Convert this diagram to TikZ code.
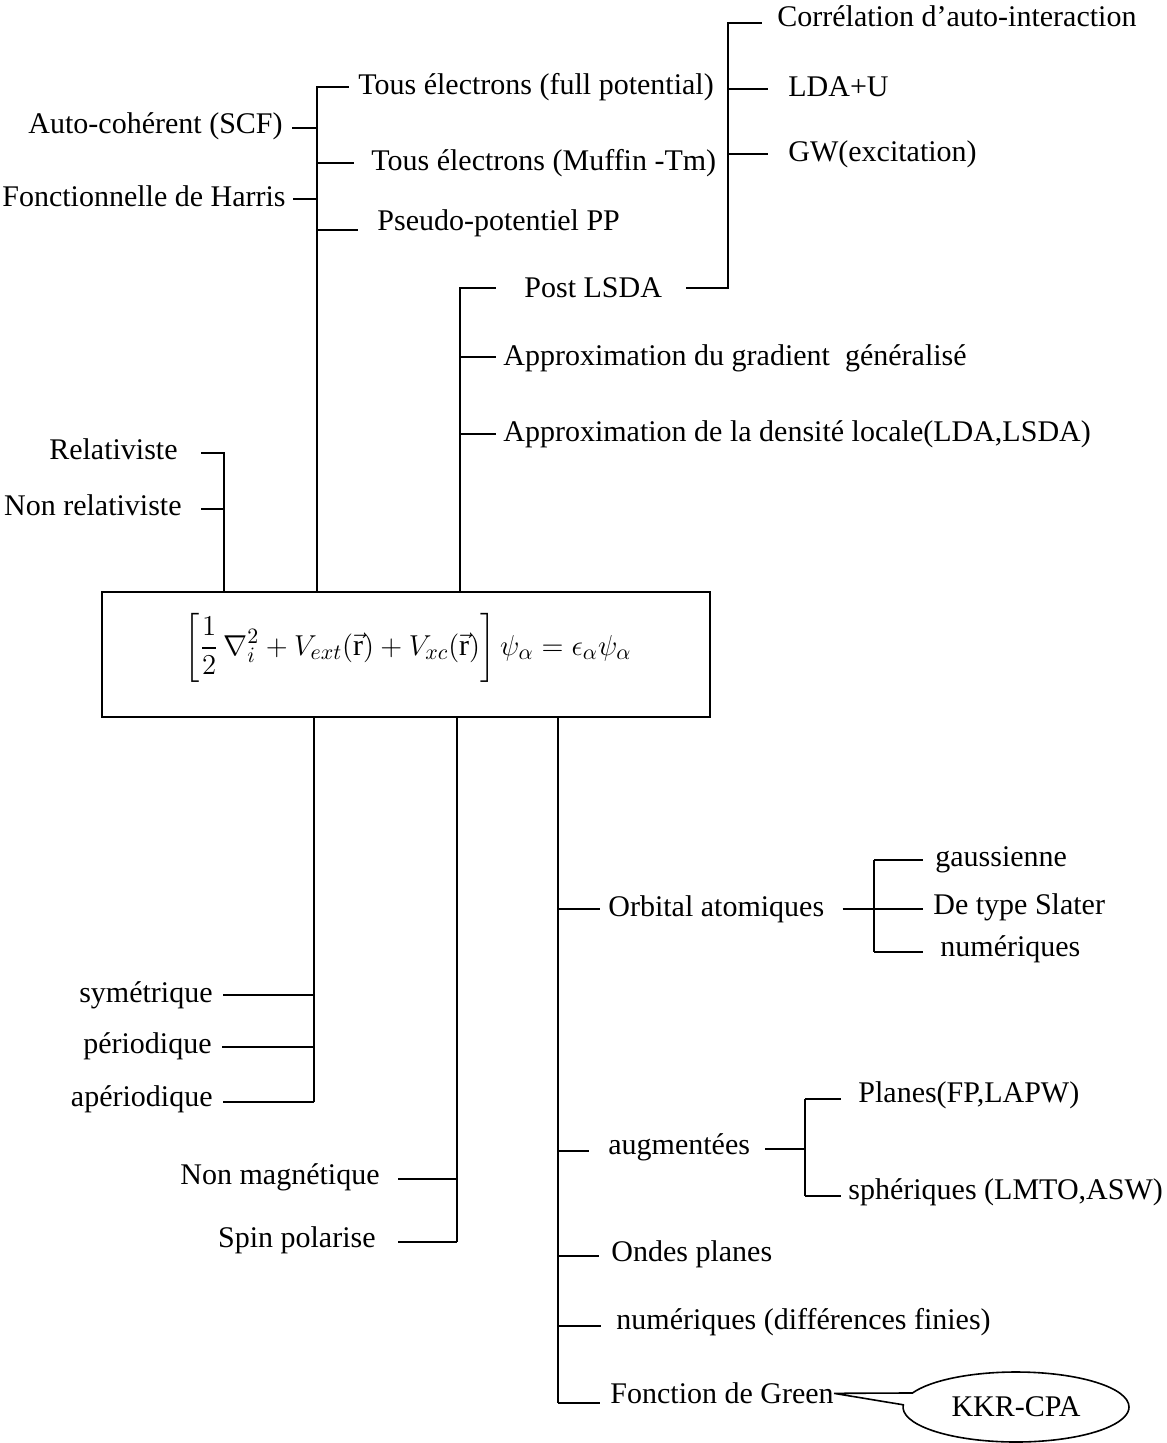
\documentclass[tikz,border=0pt]{standalone}
\usepackage{fontspec}
\setmainfont{Liberation Serif}
\usepackage{amsmath}
\usetikzlibrary{shapes.callouts}
\newcommand\lblfont{\fontsize{15}{18}\selectfont}

\begin{document}
\begin{tikzpicture}[x=0.5pt, y=-0.5pt,
  lbl/.style={inner sep=0pt, font=\lblfont},
  rl/.style={lbl, anchor=mid west, yshift=-1.5pt},
  ll/.style={lbl, anchor=mid east, yshift=-1.5pt},
  wire/.style={line width=1pt},
  gap/.style={shorten >=#1},
  lgap/.style={shorten <=#1}]
\useasboundingbox (0,0) rectangle (1166,1443);

% Kohn-Sham equation in its box
\node[draw, line width=1pt, minimum width=304pt, minimum height=62.5pt, inner sep=0pt] (box) at (406,654.5) {};
\node[lbl] (eq) at (408,648) {$\displaystyle\left[\frac{1}{2}\,\nabla_{i}^{2}+V_{ext}(\vec{\mathrm{r}})+V_{xc}(\vec{\mathrm{r}})\right]\psi_\alpha=\epsilon_\alpha\psi_\alpha$};

% ---- upper branch: all-electron / pseudopotential ----
\coordinate (a0) at (317,87);
\coordinate (a1) at (317,128);
\coordinate (a2) at (317,163);
\coordinate (a3) at (317,199);
\coordinate (a4) at (317,230);
\node[rl] (fullpot) at (358,87) {Tous électrons (full potential)};
\node[rl] (muffin) at (371,163) {Tous électrons (Muffin -Tm)};
\node[rl] (pseudo) at (377,223) {Pseudo-potentiel PP};
\node[ll] (scf) at (283,126) {Auto-cohérent (SCF)};
\node[ll] (harris) at (286,199) {Fonctionnelle de Harris};
\draw[wire, gap=4.5pt] (a0 |- box.north) -- (a0) -- (a0 -| fullpot.west);
\draw[wire, gap=8.5pt] (a2) -- (a2 -| muffin.west);
\draw[wire, gap=9.5pt] (a4) -- (a4 -| pseudo.west);
\draw[wire, lgap=4.5pt] (a1 -| scf.east) -- (a1);
\draw[wire, lgap=3.5pt] (a3 -| harris.east) -- (a3);

% ---- exchange-correlation branch ----
\coordinate (b0) at (460,288);
\coordinate (b1) at (460,357);
\coordinate (b2) at (460,434);
\node[rl] (postlsda) at (524,290) {Post LSDA};
\node[rl] (gga) at (503,358) {Approximation du gradient\ \ généralisé};
\node[rl] (lda) at (503,434) {Approximation de la densité locale(LDA,LSDA)};
\draw[wire, gap=14pt] (b0 |- box.north) -- (b0) -- (b0 -| postlsda.west);
\draw[wire, gap=3.5pt] (b1) -- (b1 -| gga.west);
\draw[wire, gap=3.5pt] (b2) -- (b2 -| lda.west);

% ---- beyond LSDA ----
\coordinate (c0) at (728,23);
\coordinate (c1) at (728,89);
\coordinate (c2) at (728,154);
\coordinate (c3) at (728,288);
\node[rl] (correl) at (777,19) {Corrélation d’auto-interaction};
\node[rl] (ldau) at (788,89) {LDA+U};
\node[rl] (gw) at (788,154) {GW(excitation)};
\draw[wire, lgap=12pt, gap=7.5pt] (c3 -| postlsda.east) -- (c3) -- (c0) -- (c0 -| correl.west);
\draw[wire, gap=10pt] (c1) -- (c1 -| ldau.west);
\draw[wire, gap=10pt] (c2) -- (c2 -| gw.west);

% ---- relativistic treatment ----
\coordinate (d0) at (224,453);
\coordinate (d1) at (224,509);
\node[ll] (relat) at (178,452) {Relativiste};
\node[ll] (nonrel) at (182,508) {Non relativiste};
\draw[wire, lgap=11.5pt] (relat.east |- d0) -- (d0) -- (d0 |- box.north);
\draw[wire, lgap=9.5pt] (nonrel.east |- d1) -- (d1);

% ---- lower branch: symmetry ----
\coordinate (e0) at (314,995);
\coordinate (e1) at (314,1047);
\coordinate (e2) at (314,1102);
\node[ll] (sym) at (213,995) {symétrique};
\node[ll] (per) at (212,1046) {périodique};
\node[ll] (aper) at (213,1099) {apériodique};
\draw[wire] (e0 |- box.south) -- (e2);
\draw[wire, lgap=5pt] (sym.east |- e0) -- (e0);
\draw[wire, lgap=5pt] (per.east |- e1) -- (e1);
\draw[wire, lgap=5pt] (aper.east |- e2) -- (e2);

% ---- lower branch: spin ----
\coordinate (f0) at (457,1179);
\coordinate (f1) at (457,1242);
\node[ll] (nonmag) at (380,1177) {Non magnétique};
\node[ll] (spin) at (376,1240) {Spin polarise};
\draw[wire] (f0 |- box.south) -- (f1);
\draw[wire, lgap=9pt] (nonmag.east |- f0) -- (f0);
\draw[wire, lgap=11pt] (spin.east |- f1) -- (f1);

% ---- lower branch: basis sets ----
\coordinate (g0) at (558,909);
\coordinate (g1) at (558,1151);
\coordinate (g2) at (558,1256);
\coordinate (g3) at (558,1326);
\coordinate (g4) at (558,1403);
\node[rl] (orbital) at (608,909) {Orbital atomiques};
\node[rl] (augm) at (608,1147) {augmentées};
\node[rl] (ondes) at (611,1254) {Ondes planes};
\node[rl] (numdf) at (616,1322) {numériques (différences finies)};
\node[rl] (green) at (610,1396) {Fonction de Green};
\draw[wire] (g0 |- box.south) -- (g4);
\draw[wire, gap=4pt] (g0) -- (g0 -| orbital.west);
\draw[wire, gap=9.5pt] (g1) -- (g1 -| augm.west);
\draw[wire, gap=6pt] (g2) -- (g2 -| ondes.west);
\draw[wire, gap=7.5pt] (g3) -- (g3 -| numdf.west);
\draw[wire, gap=5pt] (g4) -- (g4 -| green.west);

% atomic orbitals
\coordinate (h0) at (874,860);
\coordinate (h1) at (874,909);
\coordinate (h2) at (874,952);
\node[rl] (gauss) at (935,859) {gaussienne};
\node[rl] (slater) at (933,907) {De type Slater};
\node[rl] (numat) at (940,949) {numériques};
\draw[wire, lgap=9pt] (orbital.east |- h1) -- (h1);
\draw[wire] (h0) -- (h2);
\draw[wire, gap=6pt] (h0) -- (h0 -| gauss.west);
\draw[wire, gap=5pt] (h1) -- (h1 -| slater.west);
\draw[wire, gap=8.5pt] (h2) -- (h2 -| numat.west);

% augmented waves
\coordinate (i0) at (805,1099);
\coordinate (i1) at (805,1149);
\coordinate (i2) at (805,1196);
\node[rl] (planes) at (858,1095) {Planes(FP,LAPW)};
\node[rl] (spher) at (848,1192) {sphériques (LMTO,ASW)};
\draw[wire, lgap=7.5pt] (augm.east |- i1) -- (i1);
\draw[wire] (i0) -- (i2);
\draw[wire, gap=8.5pt] (i0) -- (i0 -| planes.west);
\draw[wire, gap=3.5pt] (i2) -- (i2 -| spher.west);

% Green's function method callout
\node[ellipse callout, draw, line width=0.8pt, minimum width=113pt, minimum height=35pt,
      inner sep=0pt, callout pointer arc=20, callout absolute pointer={(green.east)},
      font=\lblfont] (kkr) at (1016,1407) {KKR-CPA};
\end{tikzpicture}
\end{document}
